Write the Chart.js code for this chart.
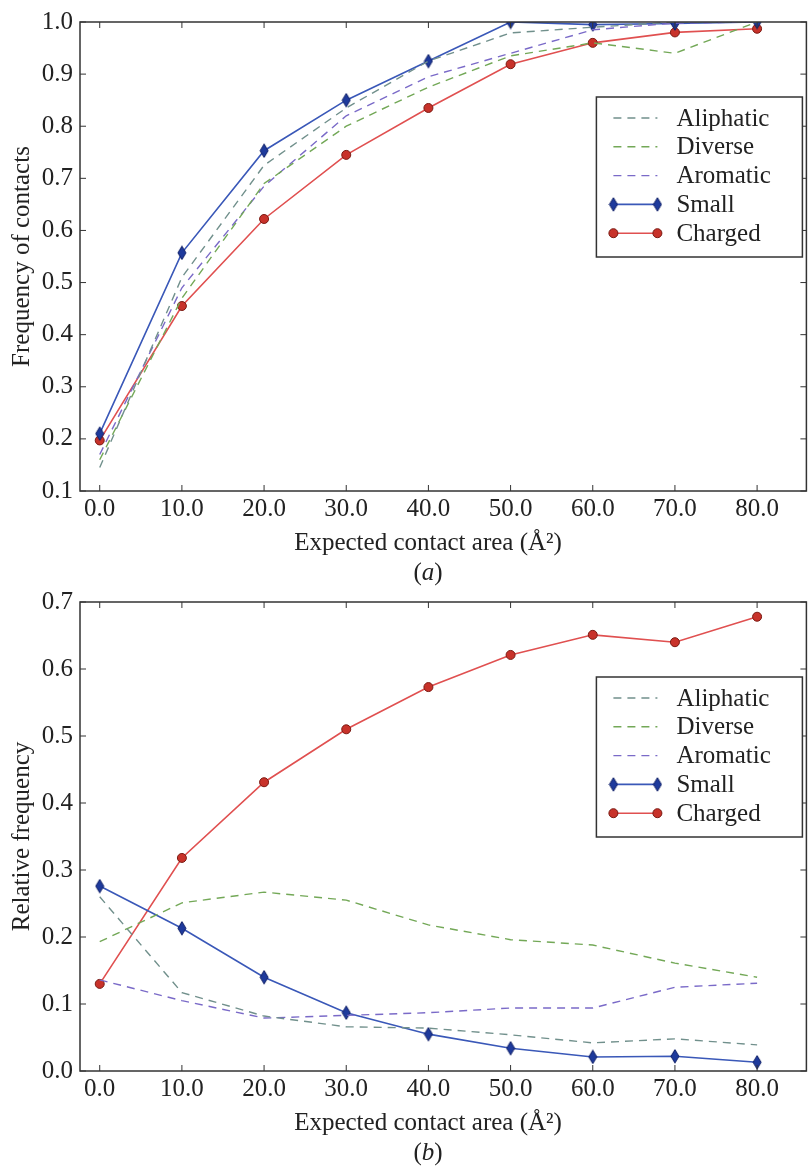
<!DOCTYPE html>
<html>
<head>
<meta charset="utf-8">
<script src="https://cdn.jsdelivr.net/npm/chart.js@4.4.1/dist/chart.umd.min.js"></script>
<style>
  html, body { margin: 0; padding: 0; background: #fff; overflow: hidden; }
  canvas { display: block; }
  #chart-b { margin-top: -10px; }
</style>
</head>
<body>
<canvas id="chart-a" width="814" height="590"></canvas>
<canvas id="chart-b" width="814" height="587"></canvas>
<script>
const areas = [0, 10, 20, 30, 40, 50, 60, 70, 80]
const xTicks = [0, 10, 20, 30, 40, 50, 60, 70, 80]
const yTicksA = [0.1, 0.2, 0.3, 0.4, 0.5, 0.6, 0.7, 0.8, 0.9, 1.0]
const yTicksB = [0, 0.1, 0.2, 0.3, 0.4, 0.5, 0.6, 0.7]
const names = ['Aliphatic', 'Diverse', 'Aromatic', 'Small', 'Charged']

// (a) frequency of contacts
const aAliphatic = [0.145, 0.51, 0.725, 0.835, 0.925, 0.979, 0.99, 1.0, 1.0]
const aDiverse = [0.16, 0.47, 0.69, 0.80, 0.875, 0.935, 0.96, 0.94, 1.0]
const aAromatic = [0.17, 0.49, 0.685, 0.82, 0.895, 0.94, 0.985, 0.998, 1.0]
const aSmall = [0.21, 0.557, 0.753, 0.85, 0.925, 1.0, 0.995, 0.997, 1.0]
const aCharged = [0.197, 0.455, 0.622, 0.745, 0.835, 0.919, 0.96, 0.98, 0.987]

// (b) relative frequency
const bAliphatic = [0.26, 0.117, 0.082, 0.066, 0.064, 0.054, 0.042, 0.048, 0.039]
const bDiverse = [0.193, 0.251, 0.267, 0.255, 0.218, 0.196, 0.188, 0.161, 0.14]
const bAromatic = [0.136, 0.105, 0.079, 0.083, 0.087, 0.094, 0.094, 0.125, 0.131]
const bSmall = [0.276, 0.213, 0.14, 0.087, 0.055, 0.034, 0.021, 0.022, 0.013]
const bCharged = [0.13, 0.318, 0.431, 0.51, 0.573, 0.621, 0.651, 0.64, 0.678]

const FONT = 'Liberation Serif'
const INK = '#222'

// thin diamond marker like matplotlib 'd'
function thinDiamond() {
  const c = document.createElement('canvas')
  c.width = 10
  c.height = 15
  const g = c.getContext('2d')
  g.beginPath()
  g.moveTo(5, 0.8)
  g.lineTo(9, 7.5)
  g.lineTo(5, 14.2)
  g.lineTo(1, 7.5)
  g.closePath()
  g.fillStyle = '#1e3a9c'
  g.fill()
  g.strokeStyle = '#0e1e66'
  g.lineWidth = 1
  g.stroke()
  return c
}
const diamond = thinDiamond()

const styles = [
  { borderColor: '#71908c', borderDash: [8, 6], borderWidth: 1.4, pointRadius: 0 },
  { borderColor: '#73a857', borderDash: [8, 6], borderWidth: 1.4, pointRadius: 0 },
  { borderColor: '#7a6ac8', borderDash: [8, 6], borderWidth: 1.4, pointRadius: 0 },
  { borderColor: '#3a58b8', borderWidth: 1.6, pointStyle: diamond, pointRadius: 6 },
  { borderColor: '#e05050', borderWidth: 1.6, pointStyle: 'circle', pointRadius: 4.5,
    pointBackgroundColor: '#c8322a', pointBorderColor: '#7a1a12', pointBorderWidth: 1 }
]

function makeDatasets(series) {
  return series.map((vals, i) => Object.assign({
    label: names[i],
    data: vals.map((v, j) => ({ x: areas[j], y: v })),
    fill: false,
    tension: 0,
    clip: 0
  }, styles[i]))
}

// box + inward ticks, like a matplotlib frame
const frame = {
  id: 'frame',
  afterDatasetsDraw(chart) {
    const { ctx, chartArea: a, scales } = chart
    ctx.save()
    ctx.strokeStyle = '#333'
    ctx.lineWidth = 1.5
    ctx.strokeRect(a.left, a.top, a.right - a.left, a.bottom - a.top)
    ctx.lineWidth = 1
    const t = 6
    ctx.beginPath()
    scales.x.ticks.forEach(tk => {
      const px = scales.x.getPixelForValue(tk.value)
      ctx.moveTo(px, a.bottom); ctx.lineTo(px, a.bottom - t)
      ctx.moveTo(px, a.top); ctx.lineTo(px, a.top + t)
    })
    scales.y.ticks.forEach(tk => {
      const py = scales.y.getPixelForValue(tk.value)
      ctx.moveTo(a.left, py); ctx.lineTo(a.left + t, py)
      ctx.moveTo(a.right, py); ctx.lineTo(a.right - t, py)
    })
    ctx.stroke()
    ctx.restore()
  }
}

// boxed legend inside the plot, upper right
const boxLegend = {
  id: 'boxLegend',
  afterDatasetsDraw(chart) {
    const { ctx, chartArea: a } = chart
    const w = 206, h = 160
    const x0 = a.right - 4 - w
    const y0 = a.top + 75
    ctx.save()
    ctx.fillStyle = '#fff'
    ctx.fillRect(x0, y0, w, h)
    ctx.strokeStyle = '#333'
    ctx.lineWidth = 1.5
    ctx.strokeRect(x0, y0, w, h)
    chart.data.datasets.forEach((ds, i) => {
      const y = y0 + 21 + i * 28.8
      const xa = x0 + 17, xb = x0 + 61
      ctx.setLineDash(ds.borderDash || [])
      ctx.strokeStyle = ds.borderColor
      ctx.lineWidth = ds.borderWidth
      ctx.beginPath()
      ctx.moveTo(xa, y)
      ctx.lineTo(xb, y)
      ctx.stroke()
      ctx.setLineDash([])
      ;[xa, xb].forEach(px => {
        if (ds.pointStyle === 'circle') {
          ctx.beginPath()
          ctx.arc(px, y, ds.pointRadius, 0, Math.PI * 2)
          ctx.fillStyle = ds.pointBackgroundColor
          ctx.fill()
          ctx.strokeStyle = ds.pointBorderColor
          ctx.lineWidth = ds.pointBorderWidth
          ctx.stroke()
        } else if (ds.pointStyle) {
          ctx.drawImage(ds.pointStyle, px - ds.pointStyle.width / 2, y - ds.pointStyle.height / 2)
        }
      })
      ctx.fillStyle = INK
      ctx.font = `25px "${FONT}"`
      ctx.textBaseline = 'middle'
      ctx.textAlign = 'left'
      ctx.fillText(ds.label, x0 + 80, y + 1)
    })
    ctx.restore()
  }
}

// x title and panel caption
const caption = {
  id: 'caption',
  afterDraw(chart) {
    const { ctx } = chart
    const cx = 428
    ctx.save()
    ctx.fillStyle = INK
    ctx.textBaseline = 'middle'
    ctx.textAlign = 'center'
    ctx.font = `25px "${FONT}"`
    ctx.fillText('Expected contact area (Å²)', cx, 543)
    const letter = chart.options.plugins.caption.letter
    const normal = `25px "${FONT}"`
    const italic = `italic 25px "${FONT}"`
    ctx.font = normal
    const wp = ctx.measureText('(').width
    const wc = ctx.measureText(')').width
    ctx.font = italic
    const wl = ctx.measureText(letter).width
    let x = cx - (wp + wl + wc) / 2
    ctx.textAlign = 'left'
    ctx.font = normal
    ctx.fillText('(', x, 573)
    x += wp
    ctx.font = italic
    ctx.fillText(letter, x, 573)
    x += wl
    ctx.font = normal
    ctx.fillText(')', x, 573)
    ctx.restore()
  }
}

function makeChart(el, series, yTicks, yMin, yMax, yTitle, letter) {
  return new Chart(el, {
    type: 'line',
    data: { datasets: makeDatasets(series) },
    options: {
      responsive: false,
      animation: false,
      layout: { padding: { top: 22, right: 2, left: 0, bottom: 0 } },
      plugins: {
        legend: { display: false },
        tooltip: { enabled: false },
        caption: { letter }
      },
      scales: {
        x: {
          type: 'linear',
          min: -2.4,
          max: 86,
          afterBuildTicks: s => { s.ticks = xTicks.map(v => ({ value: v })) },
          afterFit: s => { s.height = el.height - 491 },
          grid: { display: false, drawTicks: false },
          border: { display: false },
          ticks: {
            padding: 3,
            color: INK,
            font: { family: FONT, size: 25 },
            maxRotation: 0,
            callback: v => v.toFixed(1)
          }
        },
        y: {
          min: yMin,
          max: yMax,
          afterBuildTicks: s => { s.ticks = yTicks.map(v => ({ value: v })) },
          afterFit: s => { s.width = 80 },
          grid: { display: false, drawTicks: false },
          border: { display: false },
          ticks: {
            padding: 7,
            color: INK,
            font: { family: FONT, size: 25 },
            callback: v => v.toFixed(1)
          },
          title: {
            display: true,
            text: yTitle,
            color: INK,
            font: { family: FONT, size: 25 },
            padding: { top: 7, bottom: 0 }
          }
        }
      }
    },
    plugins: [frame, boxLegend, caption]
  })
}

makeChart(document.getElementById('chart-a'),
  [aAliphatic, aDiverse, aAromatic, aSmall, aCharged],
  yTicksA, 0.1, 1.0, 'Frequency of contacts', 'a')

makeChart(document.getElementById('chart-b'),
  [bAliphatic, bDiverse, bAromatic, bSmall, bCharged],
  yTicksB, 0, 0.7, 'Relative frequency', 'b')
</script>
</body>
</html>
